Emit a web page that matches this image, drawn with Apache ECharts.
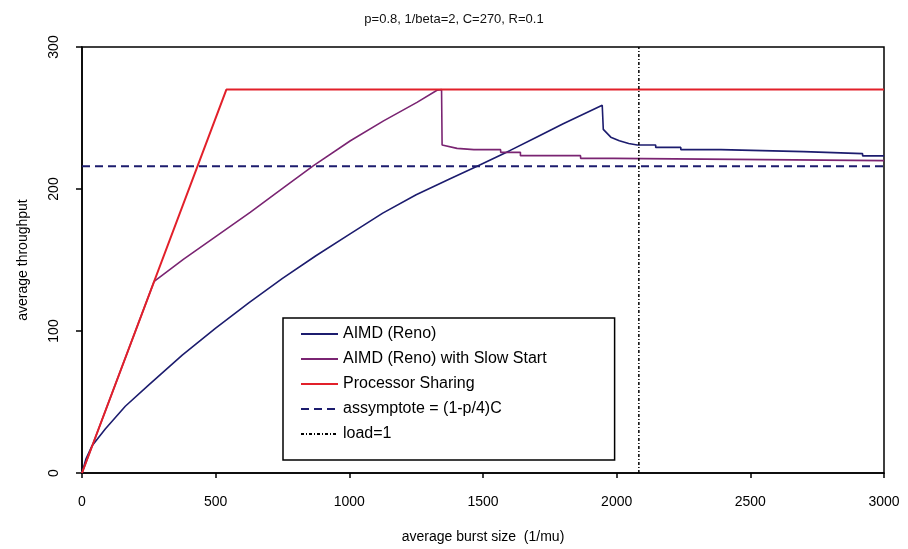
<!DOCTYPE html>
<html>
<head>
<meta charset="utf-8">
<script src="https://cdn.jsdelivr.net/npm/echarts@6/dist/echarts.min.js"></script>
<style>html,body{margin:0;padding:0;background:#fff;}#c{width:908px;height:549px;}</style>
</head>
<body>
<div id="c"></div>
<script>
const titleText = 'p=0.8, 1/beta=2, C=270, R=0.1';
const seriesNames = ['AIMD (Reno)', 'AIMD (Reno) with Slow Start', 'Processor Sharing', 'assymptote = (1-p/4)C', 'load=1'];
const xTicks = [0, 500, 1000, 1500, 2000, 2500, 3000];
const yTicks = [0, 100, 200, 300];

const aimdReno = [
  [0,0],[15,10],[37,19],[87,31],[162,47],[250,62],[375,83],[500,102],[625,120],[750,137],[875,153],
  [1000,168],[1125,183],[1250,196],[1375,207],[1478,216],[1600,227],[1700,236.5],[1800,246],[1946,259],
  [1950,242],[1978,236.5],[2010,234],[2045,232],[2077,231],[2146,231],[2146,229.3],[2240,229.3],
  [2240,227.7],[2390,227.7],[2390,226.3],[2700,226.3],[2700,224.9],[2920,224.9],[2920,223.3],[3000,223.3]
];
const aimdSlowStart = [
  [0,0],[270,135],[379,150.5],[504,167],[629,183.5],[754,201],[866,216.5],[1004,234],[1128,248],
  [1253,261],[1328,269.5],[1345,270],[1347,231],[1403,228.6],[1466,227.7],[1566,227.7],[1566,225.8],
  [1640,225.8],[1640,223.5],[1865,223.5],[1865,221.6],[1990,221.6],[1990,220.3],[3000,220]
];
const processorSharing = [[0,0],[540,270],[3000,270]];
const asymptote = [[0,216],[3000,216]];
const loadOne = [[2083,0],[2083,300]];

const chart = echarts.init(document.getElementById('c'));
const font = 'Liberation Sans, Arial, sans-serif';
chart.setOption({
  animation: false,
  backgroundColor: '#fff',
  title: {
    text: titleText, left: 'center', top: 8,
    textStyle: {fontFamily: font, fontSize: 13, fontWeight: 'normal', color: '#111'}
  },
  grid: {left: 82, right: 24, top: 47, bottom: 76, show: true, borderColor: '#000', borderWidth: 1.5, backgroundColor: 'transparent'},
  legend: {
    orient: 'vertical', left: 283, top: 318,
    data: seriesNames,
    itemWidth: 37, itemHeight: 14, itemGap: 9,
    padding: [8, 68, 18, 17],
    borderColor: '#000', borderWidth: 1.5, backgroundColor: '#fff',
    itemStyle: {color: 'rgba(0,0,0,0)', borderWidth: 0, opacity: 0},
    textStyle: {fontFamily: font, fontSize: 16, color: '#000'}
  },
  xAxis: {
    type: 'value', min: 0, max: 3000, interval: 500,
    name: 'average burst size  (1/mu)', nameLocation: 'middle', nameGap: 57,
    nameTextStyle: {fontFamily: font, fontSize: 14, color: '#000'},
    axisLine: {onZero: false, lineStyle: {color: '#000', width: 1.5}},
    axisTick: {show: true, length: 5, lineStyle: {color: '#000', width: 1.5}},
    axisLabel: {fontFamily: font, fontSize: 14, color: '#000', margin: 22,
      formatter: v => xTicks.indexOf(v) >= 0 ? String(v) : ''},
    splitLine: {show: false}
  },
  yAxis: {
    type: 'value', min: 0, max: 300, interval: 100,
    name: 'average throughput', nameLocation: 'middle', nameGap: 52,
    nameTextStyle: {fontFamily: font, fontSize: 14, color: '#000'},
    axisLine: {lineStyle: {color: '#000', width: 1.5}},
    axisTick: {show: true, length: 6, lineStyle: {color: '#000', width: 1.5}},
    axisLabel: {fontFamily: font, fontSize: 14, color: '#000', margin: 21, rotate: 90,
      formatter: v => yTicks.indexOf(v) >= 0 ? String(v) : ''},
    splitLine: {show: false}
  },
  series: [
    {name: seriesNames[0], type: 'line', data: aimdReno, symbol: 'none', z: 2,
     lineStyle: {color: '#1c1c6e', width: 1.6}, itemStyle: {color: '#1c1c6e'}},
    {name: seriesNames[1], type: 'line', data: aimdSlowStart, symbol: 'none', z: 3,
     lineStyle: {color: '#7a2472', width: 1.6}, itemStyle: {color: '#7a2472'}},
    {name: seriesNames[2], type: 'line', data: processorSharing, symbol: 'none', z: 4,
     lineStyle: {color: '#e2202a', width: 2}, itemStyle: {color: '#e2202a'}},
    {name: seriesNames[3], type: 'line', data: asymptote, symbol: 'none', z: 5,
     lineStyle: {color: '#1c1c6e', width: 2, type: [8, 5]}, itemStyle: {color: '#1c1c6e'}},
    {name: seriesNames[4], type: 'line', data: loadOne, symbol: 'none', z: 5,
     lineStyle: {color: '#000', width: 1.5, type: [3, 2, 1, 2]}, itemStyle: {color: '#000'}}
  ]
});
</script>
</body>
</html>
